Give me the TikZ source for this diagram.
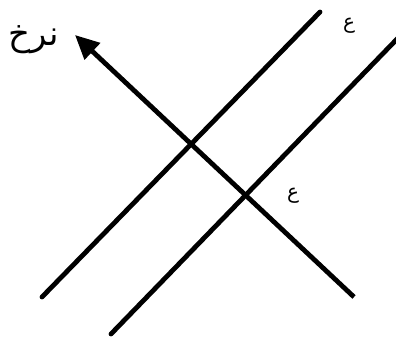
\documentclass[tikz,border=0pt]{standalone}
\usepackage{fontspec}
\newfontfamily\arabicfont[Script=Arabic]{DejaVu Sans}
\TeXXeTstate=1
\usetikzlibrary{arrows.meta}
\tikzset{curve/.style={line width=4.8pt, line cap=round},
  lbl/.style={inner sep=0pt, font=\arabicfont}}
\begin{document}
\begin{tikzpicture}[x=1pt,y=-1pt]
\useasboundingbox (0,0) rectangle (396,339);
\coordinate (a1) at (42,297);
\coordinate (a2) at (320,12);
\coordinate (b1) at (111,334);
\coordinate (b2) at (398,38);
\coordinate (c1) at (354,297);
\coordinate (c2) at (75,35);
\draw[curve] (a1) -- (a2);
\draw[curve] (b1) -- (b2);
\draw[line width=4.8pt, -{Triangle[length=24pt,width=22pt]}] (c1) -- (c2);
\node[lbl, font=\arabicfont\fontsize{34}{40}\selectfont] (rate) at (34,40) {\beginR نرخ\endR};
\node[lbl, font=\arabicfont\fontsize{20}{24}\selectfont] (s1) at (349,26) {\beginR ع\endR};
\node[lbl, font=\arabicfont\fontsize{20}{24}\selectfont] (s2) at (293,196) {\beginR ع\endR};
\end{tikzpicture}
\end{document}
